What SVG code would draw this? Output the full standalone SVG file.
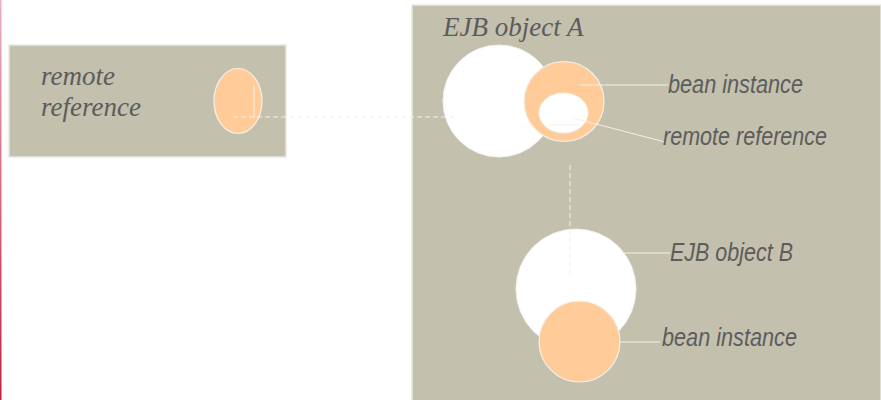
<svg xmlns="http://www.w3.org/2000/svg" width="881" height="400" viewBox="0 0 881 400">
<defs>
<linearGradient id="edge" x1="0" y1="0" x2="0" y2="1">
<stop offset="0" stop-color="#eab0c0"/>
<stop offset="1" stop-color="#c0203c"/>
</linearGradient>
</defs>
<style>
.panel{fill:#c3c0ad;stroke:#e9e8e2;stroke-width:1.5}
.white{fill:#ffffff;stroke:#f2f2ee;stroke-width:1}
.orange{fill:#ffcc99;stroke:#f4f1ea;stroke-width:1.2}
.lead{stroke:#f2f0ea;stroke-width:1;fill:none}
.dash{stroke:#f2f0ea;stroke-width:1;stroke-dasharray:5 3;fill:none}
.serif{font-family:"Liberation Serif","DejaVu Serif",serif;font-style:italic;font-size:27px;fill:#5c5c5c}
.sans{font-family:"Liberation Sans","DejaVu Sans",sans-serif;font-style:italic;font-size:26px;fill:#5c5c5c}
</style>
<rect x="0" y="0" width="1.5" height="400" fill="url(#edge)"/>
<g id="client">
<rect class="panel" x="9" y="45" width="277" height="112"/>
<text class="serif" x="41" y="85">remote</text>
<text class="serif" x="41" y="116">reference</text>
<ellipse class="orange" cx="238" cy="101" rx="24" ry="32.5"/>
<line class="lead" x1="254" y1="85" x2="254" y2="118"/>
</g>
<g id="server">
<rect class="panel" x="412" y="5" width="469" height="396"/>
</g>
<g id="ejbA">
<text class="serif" x="443" y="36">EJB object A</text>
<circle class="white" cx="499" cy="101" r="56"/>
<circle class="orange" cx="564" cy="101.5" r="40"/>
<ellipse class="white" cx="563.5" cy="113" rx="24.5" ry="20"/>
</g>
<g id="ejbB">
<circle class="white" cx="576" cy="289" r="60"/>
<circle class="orange" cx="579.5" cy="341.5" r="40.5"/>
</g>
<g id="connectors">
<line class="dash" x1="233" y1="117" x2="455" y2="117"/>
<line class="dash" x1="570" y1="165" x2="570" y2="275"/>
<line class="lead" x1="580" y1="85" x2="668" y2="85"/>
<line class="lead" x1="548" y1="125" x2="583" y2="125"/>
<line class="lead" x1="573" y1="118" x2="665" y2="142"/>
<line class="lead" x1="622" y1="253" x2="670" y2="253"/>
<line class="lead" x1="620" y1="342" x2="660" y2="342"/>
</g>
<g id="labels">
<text class="sans" x="668" y="93" textLength="135" lengthAdjust="spacingAndGlyphs">bean instance</text>
<text class="sans" x="663" y="145" textLength="164" lengthAdjust="spacingAndGlyphs">remote reference</text>
<text class="sans" x="670" y="261" textLength="123" lengthAdjust="spacingAndGlyphs">EJB object B</text>
<text class="sans" x="662" y="346" textLength="135" lengthAdjust="spacingAndGlyphs">bean instance</text>
</g>
</svg>
